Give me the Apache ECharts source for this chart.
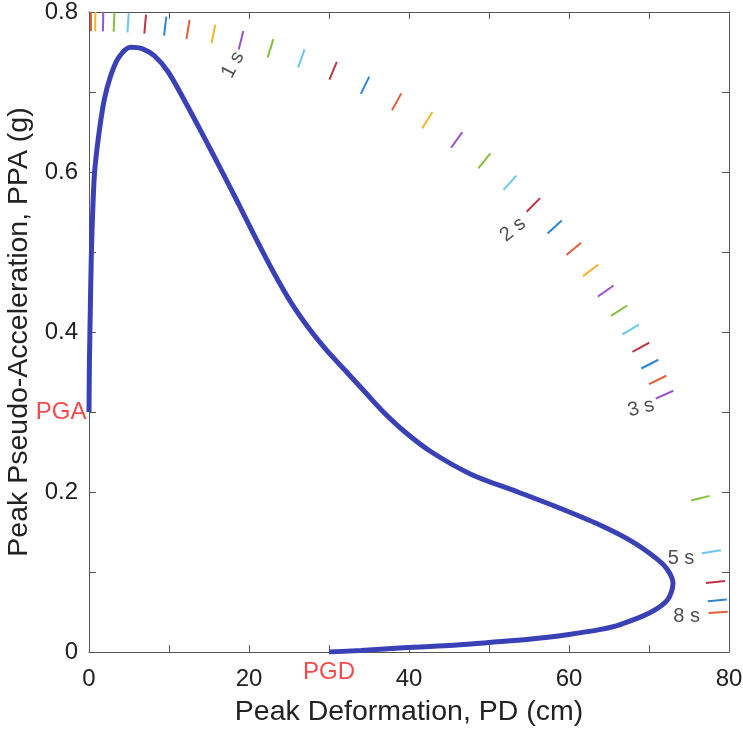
<!DOCTYPE html>
<html>
<head>
<meta charset="utf-8">
<title>PD-PPA diagram</title>
<script src="https://cdn.jsdelivr.net/npm/echarts@6.0.0/dist/echarts.min.js"></script>
<style>
  html, body { margin: 0; padding: 0; background: #fff; }
  #chart { width: 743px; height: 734px; }
</style>
</head>
<body>
<div id="chart"></div>
<script>
// blue curve: PD in cm, PPA in g
const curvePD = [0, 0.05, 0.15, 0.3, 0.5, 0.7, 1.2, 1.9, 2.7, 3.7, 5.2, 6.7, 8.2, 9.9, 11.9,
  14.2, 16.5, 18.7, 20.9, 23.1, 25.3, 27.6, 29.8, 32.2, 34.5, 36.8, 39.5, 42.8,
  47.8, 53.6, 58.8, 63.8, 67.9, 70.9, 72.3, 73.0, 72.3, 70.1, 66.3, 63.8, 60.0, 55.0,
  50.0, 45.0, 38.8, 34.0, 30.0];
const curvePPA = [0.30, 0.36, 0.42, 0.50, 0.56, 0.60, 0.645, 0.69, 0.72, 0.743, 0.756, 0.754, 0.745, 0.725, 0.69,
  0.647, 0.603, 0.560, 0.516, 0.474, 0.436, 0.403, 0.376, 0.350, 0.325, 0.300, 0.275, 0.250,
  0.222, 0.200, 0.180, 0.159, 0.138, 0.117, 0.103, 0.086, 0.065, 0.049, 0.034, 0.028, 0.022, 0.016,
  0.012, 0.008, 0.005, 0.002, 0.0];

const PGA = 0.3;   // g
const PGD = 30;    // cm

// constant-period rays (s) and the colour of each dash
const periods = [0.1, 0.2, 0.3, 0.4, 0.5, 0.6, 0.7, 0.8, 0.9, 1.0,
  1.1, 1.2, 1.3, 1.4, 1.5, 1.6, 1.7, 1.8, 1.9, 2.0,
  2.1, 2.2, 2.3, 2.4, 2.5, 2.6, 2.7, 2.8, 2.9, 3.0,
  4, 5, 6, 7, 8];
const periodColors = ['#e0603a', '#efb62c', '#9a52c8', '#86bf3e', '#68c8ec', '#bd3447', '#2f86cf',
  '#e0603a', '#efb62c', '#9a52c8', '#86bf3e', '#68c8ec', '#bd3447', '#2f86cf',
  '#e0603a', '#efb62c', '#9a52c8', '#86bf3e', '#68c8ec', '#bd3447', '#2f86cf',
  '#e0603a', '#efb62c', '#9a52c8', '#86bf3e', '#68c8ec', '#bd3447', '#2f86cf',
  '#e0603a', '#9a52c8',
  '#86bf3e', '#68c8ec', '#bd3447', '#2f86cf', '#e0603a'];

const periodLabels = ['1 s', '2 s', '3 s', '5 s', '8 s'];
const periodLabelPD = [18.0, 53.0, 69.0, 74.0, 74.7];
const periodLabelPPA = [0.734, 0.528, 0.305, 0.117, 0.045];
const periodLabelAngle = [62, 39, 14, 0, 0];

const fontFamily = '"Liberation Sans", Arial, Helvetica, sans-serif';
const textColor = '#222';
const frameColor = '#555';

const X_MAX = 80;
const Y_MAX = 0.8;
const G = 981; // cm/s2

// each dash sits on the ray PPA = (2pi/T)^2 PD / g, near the outer edge of the box
const dashData = periods.map((T, i) => {
  const slope = 4 * Math.PI * Math.PI / (G * T * T);
  const ang = Math.atan(slope * X_MAX / Y_MAX);
  const c = Math.cos(ang), s = Math.sin(ang);
  return {
    coords: [[X_MAX * 0.97 * c, Y_MAX * 0.97 * s], [X_MAX * c, Y_MAX * s]],
    lineStyle: { color: periodColors[i] }
  };
});

const curveData = curvePD.map((x, i) => [x, curvePPA[i]]);

const labelData = periodLabels.map((t, i) => ({
  value: [periodLabelPD[i], periodLabelPPA[i]],
  label: { formatter: t, rotate: periodLabelAngle[i] }
}));

const myChart = echarts.init(document.getElementById('chart'), null, { renderer: 'canvas' });

const frameAxis = {
  type: 'value',
  axisLine: { show: true, onZero: false, lineStyle: { color: frameColor, width: 1 } },
  axisTick: { show: true, inside: true, length: 7, lineStyle: { color: frameColor, width: 1 } },
  splitLine: { show: false }
};

const option = {
  animation: false,
  backgroundColor: '#fff',
  textStyle: { fontFamily: fontFamily },
  grid: { left: 89, right: 14, top: 12, bottom: 82, containLabel: false, outerBoundsMode: 'none' },
  xAxis: [
    Object.assign({}, frameAxis, {
      min: 0, max: X_MAX, interval: 10, position: 'bottom',
      name: 'Peak Deformation, PD (cm)',
      nameLocation: 'middle',
      nameGap: 46,
      nameTextStyle: { fontSize: 28.5, color: textColor, fontFamily: fontFamily },
      axisLabel: {
        fontSize: 24, color: textColor, margin: 15, fontFamily: fontFamily,
        formatter: v => (v % 20 === 0 ? String(v) : '')
      }
    }),
    Object.assign({}, frameAxis, {
      min: 0, max: X_MAX, interval: 10, position: 'top',
      axisLabel: { show: false }
    })
  ],
  yAxis: [
    Object.assign({}, frameAxis, {
      min: 0, max: Y_MAX, interval: 0.1, position: 'left',
      name: 'Peak Pseudo-Acceleration, PPA (g)',
      nameLocation: 'middle',
      nameGap: 52,
      nameTextStyle: { fontSize: 28.5, color: textColor, fontFamily: fontFamily },
      axisLabel: {
        fontSize: 24, color: textColor, margin: 11, fontFamily: fontFamily,
        formatter: v => {
          const t = Math.round(v * 10);
          if (t % 2 !== 0) return '';
          return t === 0 ? '0' : (t / 10).toFixed(1);
        }
      }
    }),
    Object.assign({}, frameAxis, {
      min: 0, max: Y_MAX, interval: 0.1, position: 'right',
      axisLabel: { show: false }
    })
  ],
  series: [
    {
      type: 'lines',
      coordinateSystem: 'cartesian2d',
      xAxisIndex: 0, yAxisIndex: 0,
      silent: true,
      lineStyle: { width: 2, opacity: 1 },
      data: dashData,
      z: 2
    },
    {
      type: 'line',
      xAxisIndex: 0, yAxisIndex: 0,
      data: curveData,
      showSymbol: false,
      smooth: 0.3,
      lineStyle: { color: '#3a40b6', width: 5 },
      z: 3
    },
    {
      type: 'scatter',
      xAxisIndex: 0, yAxisIndex: 0,
      symbolSize: 1,
      clip: false,
      silent: true,
      itemStyle: { color: 'rgba(0,0,0,0)' },
      label: {
        show: true, position: 'inside',
        fontSize: 20, color: textColor, fontFamily: fontFamily
      },
      data: labelData,
      z: 4
    },
    {
      type: 'scatter',
      xAxisIndex: 0, yAxisIndex: 0,
      symbolSize: 1,
      clip: false,
      silent: true,
      itemStyle: { color: 'rgba(0,0,0,0)' },
      label: { show: true, fontSize: 24, color: '#f41c1c', fontFamily: fontFamily },
      data: [
        { value: [0, PGA], label: { formatter: 'PGA', position: 'left', distance: 2 } },
        { value: [PGD, 0], label: { formatter: 'PGD', position: 'bottom', distance: 8 } }
      ],
      z: 4
    }
  ]
};

myChart.setOption(option);
</script>
</body>
</html>
